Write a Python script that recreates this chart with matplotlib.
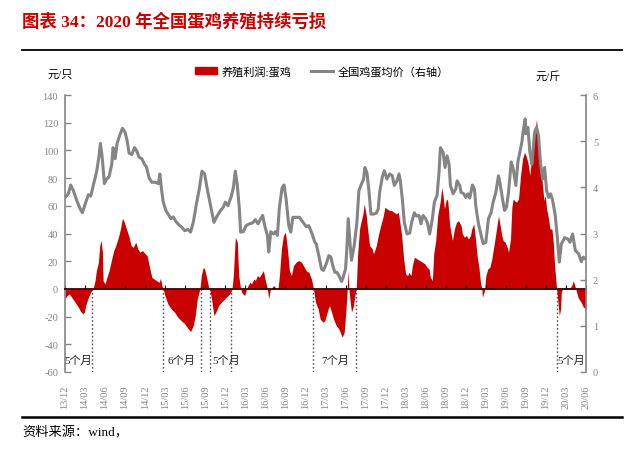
import matplotlib

matplotlib.use("Agg")
import matplotlib.pyplot as plt
from matplotlib.lines import Line2D
from matplotlib.patches import Patch

plt.rcParams["font.family"] = ["Liberation Serif", "Noto Sans CJK SC", "DejaVu Sans"]
plt.rcParams["axes.unicode_minus"] = False

RED = "#c80000"
GRAY = "#858585"
DARK = "#3a0000"

# x values are months since 2013-12
profit_m = [
    0, 0.3, 0.65, 1.0, 1.5, 2.0, 2.35, 2.65, 2.9, 3.1, 3.5, 3.85, 4.2, 4.5, 4.7, 5.0, 5.2, 5.4, 5.6, 5.7,
    6.0, 6.2, 6.6, 7.0, 7.3, 7.6, 8.0, 8.3, 8.6, 8.9, 9.2, 9.6, 9.9, 10.2, 10.6, 10.9, 11.2, 11.6, 12.0,
    12.3, 12.6, 13.0, 13.3, 13.7, 14.1, 14.3, 14.5, 14.7, 14.95, 15.4, 15.9, 16.4, 16.9, 17.4, 17.9,
    18.4, 18.8, 19.2, 19.5, 19.8, 20.2, 20.4, 20.7, 20.9, 21.2, 21.5, 21.7, 21.9, 22.3, 22.7, 23.0,
    23.4, 23.9, 24.4, 24.8, 25.0, 25.2, 25.5, 25.8, 26.0, 26.3, 26.5, 26.9, 27.1, 27.4, 27.7, 27.9,
    28.3, 28.5, 28.8, 29.1, 29.4, 29.7, 30.0, 30.3, 30.5, 30.7, 31.0, 31.3, 31.6, 31.9, 32.1, 32.4,
    32.7, 33.0, 33.3, 33.6, 33.9, 34.2, 34.6, 35.0, 35.4, 35.7, 36.1, 36.5, 36.9, 37.2, 37.5, 37.9,
    38.2, 38.6, 38.9, 39.4, 39.6, 39.9, 40.2, 40.6, 41.0, 41.3, 41.5, 41.8, 42.0, 42.2, 42.4, 42.5,
    42.7, 42.9, 43.2, 43.4, 43.6, 43.8, 44.1, 44.3, 44.6, 44.8, 45.1, 45.3, 45.6, 46.0, 46.2, 46.6,
    46.9, 47.2, 47.6, 47.9, 48.2, 48.6, 48.9, 49.2, 49.6, 49.9, 50.1, 50.4, 50.7, 51.0, 51.3, 51.5,
    51.8, 52.0, 52.3, 52.7, 53.1, 53.5, 53.9, 54.2, 54.5, 54.7, 55.0, 55.2, 55.5, 55.8, 56.2, 56.4,
    56.6, 56.8, 57.1, 57.3, 57.6, 58.0, 58.3, 58.6, 58.9, 59.3, 59.5, 59.8, 60.1, 60.4, 60.7, 60.9,
    61.2, 61.5, 61.7, 62.0, 62.2, 62.4, 62.5, 62.8, 63.0, 63.3, 63.6, 63.9, 64.3, 64.6, 64.9, 65.1,
    65.4, 65.6, 65.9, 66.2, 66.4, 66.7, 66.9, 67.1, 67.3, 67.6, 67.9, 68.2, 68.5, 68.8, 69.0, 69.3,
    69.6, 69.8, 70.1, 70.4, 70.6, 70.8, 71.1, 71.4, 71.7, 71.9, 72.1, 72.4, 72.6, 72.9, 73.1, 73.3,
    73.6, 73.8, 74.0, 74.2, 74.3, 74.5, 74.8, 75.2, 75.6, 75.9, 76.1, 76.4, 76.6, 76.8, 77.1, 77.4,
    77.6, 78.0,
]
profit = [
    -7.2, -4.8, -3.6, -6, -9.6, -13.2, -16.4, -18, -16.8, -12, -6, -2.4, 0, 6, 13.2, 19.3, 31.3, 35, 26.5, 6,
    3.6, 7.2, 13.2, 21.7, 27.7, 31.3, 37.3, 43.3, 51, 48, 43.3, 37.3, 31.3, 30, 33.7, 28.9, 26.5, 27.7, 25.3,
    24, 16.8, 8.4, 7.2, 6, 4.8, 7.7, 2.4, 0, -4.8, -10.8, -14.4, -16.8, -20.5, -22.9, -25,
    -28.5, -30.8, -26.5, -19.3, -7.2, 0, 9.6, 15.6, 14.4, 8.4, 1.2, -1.2, -6, -19.3, -15.6, -12,
    -9.6, -7.2, -4.8, -2.9, 0, 9.6, 37.3, 33.7, 9.6, 0, -2.9, -4.8, -1.2, 2.4, 4.8, 3.6,
    7.2, 6, 9.6, 8.4, 10.8, 13.2, 6, 0, -7.2, -1.2, 1.2, 2.4, 0, 0.5, 9.6, 28.9,
    38.5, 41, 28.9, 13.2, 9.6, 16.8, 19.3, 20.5, 19.3, 16.8, 13.2, 12, 7.2, 0, -9.6, -14.4,
    -21.7, -24, -22.9, -14.4, -12, -16.8, -21.7, -26.5, -28.9, -32.5, -34.9, -31.3, -19.3, -4.8, 13.2, 0,
    -9.6, -16.8, -12, -4.8, 0, 24, 43.3, 48, 54, 61.4, 52.9, 43.3, 31.3, 28.9, 25.3, 31.3,
    38.5, 44.5, 51.7, 59, 57.8, 56.6, 56.6, 55.4, 54.2, 55.4, 49.3, 38.5, 21.7, 10.8, 9.6, 12,
    9.6, 16.8, 22.9, 21.7, 20.5, 19.3, 18, 15.6, 14.4, 8.4, 6, 25.3, 34.9, 52.9, 63.8, 73.4,
    67.4, 57.8, 65, 63.8, 45.7, 34.9, 43.3, 48, 49.3, 45.7, 39.7, 37.3, 38.5, 36.1, 38.5, 43.3,
    46.9, 33.7, 24, 14.4, 4.8, 0, -6, -1.2, 9.6, 14.4, 15.6, 21.7, 33.7, 43.3, 52.9, 46.9,
    38.5, 34.9, 33.7, 30, 26.5, 36.1, 59, 65, 63.8, 62.6, 65, 81.8, 93.9, 98.7, 96.3, 91.5,
    81.8, 92.7, 106, 115.5, 122.7, 108.3, 96.3, 79.4, 63.8, 67.4, 57.8, 50.5, 43.3, 43.3, 33.7, 16.8,
    0, -9.6, -19.3, -14.4, -2.4, 0, 1.2, 0.7, 0.5, 2.9, 6, 1.2, -2.4, -6, -8.4, -10.8,
    -13.2, -14.4,
]

price_m = [
    0.0, 0.5, 0.85, 1.25, 1.75, 2.25, 2.6, 3.0, 3.5, 3.85, 4.25, 4.75, 5.1, 5.3, 5.55, 5.9, 6.2, 6.6, 7.0,
    7.2, 7.5, 7.8, 8.2, 8.6, 9.0, 9.3, 9.6, 10.0, 10.4, 10.7, 11.1, 11.5, 11.9, 12.2, 12.6, 13.0, 13.5,
    14.0, 14.2, 14.45, 14.7, 15.1, 15.45, 15.85, 16.2, 16.6, 17.1, 17.45, 17.95, 18.4, 18.8, 19.2, 19.7,
    20.1, 20.5, 20.9, 21.3, 21.8, 22.3, 22.7, 23.2, 23.7, 24.0, 24.4, 24.9, 25.2, 25.5, 25.8, 26.1,
    26.3, 26.7, 27.1, 27.6, 28.1, 28.5, 28.9, 29.3, 29.6, 29.9, 30.3, 30.5, 30.8, 31.2, 31.5, 31.8,
    32.1, 32.5, 32.8, 33.1, 33.5, 33.8, 34.1, 34.6, 35.1, 35.5, 35.8, 36.1, 36.5, 37.0, 37.4, 37.6,
    38.0, 38.4, 38.7, 39.1, 39.5, 39.8, 40.1, 40.4, 40.7, 41.0, 41.4, 41.6, 42.0, 42.2, 42.4, 42.7,
    42.9, 43.3, 43.7, 44.0, 44.3, 44.7, 44.9, 45.2, 45.5, 45.8, 46.2, 46.6, 46.9, 47.1, 47.5, 47.8,
    48.2, 48.6, 49.0, 49.3, 49.7, 50.0, 50.2, 50.5, 50.8, 51.2, 51.6, 51.9, 52.3, 52.6, 53.0, 53.3,
    53.6, 54.0, 54.3, 54.6, 55.0, 55.3, 55.7, 56.0, 56.2, 56.6, 56.9, 57.2, 57.5, 57.7, 58.1, 58.5,
    58.7, 59.1, 59.3, 59.7, 60.0, 60.3, 60.6, 61.0, 61.3, 61.5, 61.9, 62.3, 62.6, 63.0, 63.4, 63.8,
    64.1, 64.5, 64.9, 65.1, 65.5, 65.8, 66.1, 66.4, 66.8, 67.1, 67.5, 67.8, 68.1, 68.4, 68.6, 68.9,
    69.0, 69.3, 69.6, 69.9, 70.3, 70.6, 70.9, 71.2, 71.5, 71.8, 72.1, 72.4, 72.7, 73.0, 73.4, 73.7,
    74.0, 74.3, 74.8, 75.3, 75.6, 76.0, 76.4, 76.9, 77.3, 77.6, 77.9,
]
price = [
    3.78, 3.86, 4.05, 3.93, 3.72, 3.54, 3.45, 3.63, 3.84, 3.81, 4.05, 4.35, 4.68, 4.95, 4.68, 4.08, 4.17, 4.23, 4.50,
    4.86, 4.62, 4.95, 5.13, 5.28, 5.19, 5.01, 4.74, 4.71, 4.86, 4.80, 4.65, 4.62, 4.50, 4.44, 4.20, 4.11, 4.11,
    4.08, 4.29, 3.96, 3.69, 3.50, 3.42, 3.32, 3.36, 3.26, 3.18, 3.14, 3.06, 3.09, 3.03, 3.24, 3.66,
    3.96, 4.35, 4.29, 3.96, 3.60, 3.24, 3.36, 3.48, 3.57, 3.68, 3.60, 3.81, 3.99, 4.35, 4.04, 3.54,
    3.03, 3.04, 3.17, 3.21, 3.23, 3.30, 3.21, 3.32, 3.39, 3.17, 2.96, 2.60, 3.04, 2.99, 3.04, 2.96,
    3.57, 3.99, 4.05, 3.75, 3.17, 3.03, 3.35, 3.35, 3.35, 3.27, 3.21, 3.15, 3.17, 2.99, 2.81, 2.78,
    2.52, 2.23, 2.20, 2.34, 2.52, 2.49, 2.30, 2.16, 2.16, 2.09, 1.96, 2.03, 2.23, 2.67, 3.32, 2.74,
    2.42, 2.74, 3.24, 3.93, 4.04, 4.18, 4.43, 4.32, 3.93, 3.42, 3.42, 3.44, 3.53, 3.89, 4.22, 4.36,
    4.18, 4.29, 4.25, 4.04, 4.14, 4.29, 4.14, 3.75, 3.24, 2.99, 3.01, 3.24, 3.45, 3.38, 3.39, 3.21,
    3.39, 3.32, 3.21, 2.99, 3.32, 3.68, 3.82, 4.33, 4.86, 4.76, 4.43, 4.68, 4.50, 4.04, 3.86, 3.96,
    4.14, 4.04, 3.89, 3.86, 3.78, 3.86, 3.77, 4.05, 3.96, 3.60, 3.21, 2.96, 2.78, 2.81, 3.32, 3.46,
    3.68, 3.89, 4.25, 4.11, 3.75, 3.50, 3.57, 3.89, 4.55, 4.40, 4.04, 4.55, 4.76, 4.98, 5.22, 5.48,
    5.16, 5.30, 4.76, 4.50, 5.19, 5.30, 5.12, 4.50, 4.18, 4.43, 3.93, 3.78, 3.86, 3.72, 3.39, 2.92,
    2.38, 2.77, 2.91, 2.88, 2.81, 2.99, 2.63, 2.56, 2.39, 2.49, 2.45,
]

tick_m = list(range(0, 79, 3))
tick_labels = [
    "13/12", "14/03", "14/06", "14/09", "14/12", "15/03", "15/06", "15/09", "15/12",
    "16/03", "16/06", "16/09", "16/12", "17/03", "17/06", "17/09", "17/12", "18/03",
    "18/06", "18/09", "18/12", "19/03", "19/06", "19/09", "19/12", "20/03", "20/06",
]

# loss periods: dotted markers and their durations
loss_edges = [4.1, 14.6, 20.3, 21.7, 24.9, 37.1, 43.6, 73.6]
span_text = ["5个月", "6个月", "5个月", "7个月", "5个月"]
span_text_m = [2.0, 17.5, 24.1, 40.4, 75.8]


def main():
    fig = plt.figure(figsize=(6.4, 4.52), dpi=100)
    W, H = 640, 452
    ax = fig.add_axes([65 / W, 1 - 373 / H, (586 - 65) / W, (373 - 96) / H])

    ax.fill_between(profit_m, 0, profit, color=RED, lw=0, zorder=1)
    ax.vlines(loss_edges, -60, 0, colors="#555555", linestyles=(0, (1.2, 1.6)), lw=1, zorder=2)
    for txt, m in zip(span_text, span_text_m):
        ax.text(m, -51, txt, ha="center", va="center", fontsize=8, color="#222222")

    ax.set_xlim(0, 78)
    ax.set_ylim(-60, 140)
    ax.set_yticks(range(-60, 141, 20))
    ax.set_xticks(tick_m)
    for side in ("top", "right"):
        ax.spines[side].set_visible(False)
    ax.spines["bottom"].set_position(("data", 0))
    ax.spines["bottom"].set_color(DARK)
    ax.spines["bottom"].set_linewidth(1.3)
    ax.spines["bottom"].set_zorder(3)
    ax.spines["left"].set_color(GRAY)
    ax.spines["left"].set_linewidth(1.2)
    ax.tick_params(axis="x", direction="in", length=3, color=DARK, labelbottom=False)
    ax.tick_params(axis="y", direction="in", length=4, width=1, color=GRAY, labelcolor=GRAY,
                   labelsize=7.5, pad=5)

    sec = ax.secondary_xaxis("bottom")
    sec.set_xticks(tick_m, tick_labels)
    sec.tick_params(length=0, labelrotation=90, labelsize=7.5, labelcolor=GRAY, pad=9)
    sec.spines["bottom"].set_visible(False)

    ax2 = ax.twinx()
    ax2.plot(price_m, price, color=GRAY, lw=2.2, solid_joinstyle="round")
    ax2.set_ylim(0, 6)
    ax2.set_yticks(range(0, 7))
    for side in ("top", "bottom", "left"):
        ax2.spines[side].set_visible(False)
    ax2.spines["right"].set_color(GRAY)
    ax2.spines["right"].set_linewidth(1.2)
    ax2.tick_params(axis="y", direction="in", length=4, width=1, color=GRAY, labelcolor=GRAY,
                    labelsize=7.5, pad=5)

    handles = [Patch(color=RED), Line2D([], [], color=GRAY, lw=2.2)]
    fig.legend(handles, ["养殖利润:蛋鸡", "全国鸡蛋均价（右轴）"], loc="center",
               bbox_to_anchor=(0.503, 1 - 72 / H), ncol=2, frameon=False, fontsize=8,
               handlelength=2.0, handleheight=0.6, columnspacing=1.8, handletextpad=0.4)

    fig.text(60 / W, 1 - 76 / H, "元/只", ha="center", va="center", fontsize=8)
    fig.text(548 / W, 1 - 76 / H, "元/斤", ha="center", va="center", fontsize=8)

    fig.text(22 / W, 1 - 22 / H, "图表 34：2020 年全国蛋鸡养殖持续亏损", color=RED,
             fontsize=12.5, fontweight="bold", va="center", ha="left")
    fig.add_artist(Line2D([22 / W, 622 / W], [1 - 51 / H] * 2, color="black", lw=1.3))
    fig.add_artist(Line2D([22 / W, 622 / W], [1 - 418 / H] * 2, color="black", lw=1.8))
    fig.text(22 / W, 1 - 433 / H, "资料来源：wind，", fontsize=9.5, va="center", ha="left")

    fig.savefig("out.png", dpi=100)
    plt.close(fig)


if __name__ == "__main__":
    main()
